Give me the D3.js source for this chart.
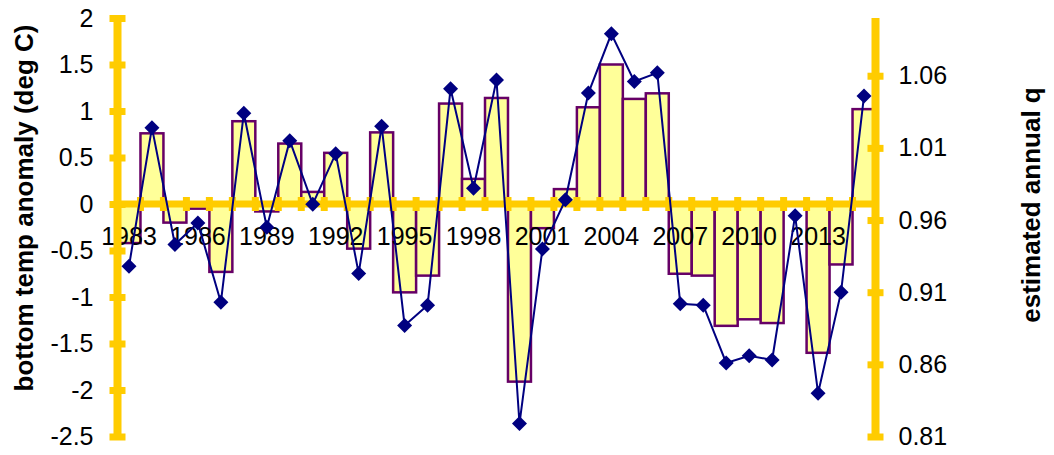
<!DOCTYPE html>
<html>
<head>
<meta charset="utf-8">
<script src="https://cdn.jsdelivr.net/npm/d3@7"></script>
<style>
  html, body { margin: 0; padding: 0; background: #ffffff; }
  svg { display: block; font-family: "Liberation Sans", Arial, sans-serif; }
</style>
</head>
<body>
<svg id="chart" width="1054" height="455"></svg>
<script>
// Annual series, 1983-2015
const years = d3.range(1983, 2016);
const tempAnomaly = [-0.42, 0.76, -0.20, -0.05, -0.73, 0.89, -0.08, 0.65, 0.13, 0.55,
                     -0.48, 0.77, -0.95, -0.77, 1.08, 0.27, 1.14, -1.91, -0.26, 0.16,
                     1.04, 1.50, 1.13, 1.19, -0.75, -0.77, -1.31, -1.24, -1.28, -0.01,
                     -1.60, -0.65, 1.02];
const annualQ = [0.928, 1.024, 0.943, 0.958, 0.903, 1.034, 0.955, 1.015, 0.971, 1.006,
                 0.923, 1.025, 0.887, 0.901, 1.051, 0.982, 1.057, 0.819, 0.940, 0.974,
                 1.048, 1.089, 1.056, 1.062, 0.902, 0.901, 0.861, 0.866, 0.863, 0.963,
                 0.840, 0.910, 1.046];
const leftTicks = [2, 1.5, 1, 0.5, 0, -0.5, -1, -1.5, -2, -2.5];
const rightTicks = [0.81, 0.86, 0.91, 0.96, 1.01, 1.06];
const yearLabels = years.filter((y, i) => i % 3 === 0);

const svg = d3.select("#chart");
const plotLeft = 117.5, plotRight = 875.5, plotTop = 18, plotBottom = 436.5;
const axisColor = "#FFCC00";
const fontSize = 25;
const fontFamily = "Liberation Sans, Arial, sans-serif";

const x = d3.scaleBand().domain(years).range([plotLeft, plotRight]).padding(0);
const yL = d3.scaleLinear().domain([-2.5, 2]).range([plotBottom, plotTop]);
const yR = d3.scaleLinear().domain([0.81, 1.1]).range([plotBottom, plotTop]);

// Bars of bottom temperature anomaly
svg.append("g").selectAll("rect")
  .data(years.map((yr, i) => ({ yr, v: tempAnomaly[i] })))
  .join("rect")
  .attr("x", d => x(d.yr))
  .attr("width", x.bandwidth())
  .attr("y", d => yL(Math.max(0, d.v)))
  .attr("height", d => Math.abs(yL(d.v) - yL(0)))
  .attr("fill", "#FFFF99")
  .attr("stroke", "#660066")
  .attr("stroke-width", 2.5);

// Category axis along zero, with cross ticks at every year boundary
const y0 = yL(0);
const xAxis = svg.append("g").attr("transform", `translate(0,${y0})`);
xAxis.append("line")
  .attr("x1", plotLeft).attr("x2", plotRight)
  .attr("stroke", axisColor).attr("stroke-width", 7);
xAxis.selectAll("rect.xt")
  .data(d3.range(years.length + 1))
  .join("rect").attr("class", "xt")
  .attr("x", i => plotLeft + i * x.step() - 3.5)
  .attr("width", 7)
  .attr("y", -7).attr("height", 14)
  .attr("fill", axisColor);

const xLabels = svg.append("g")
  .attr("transform", `translate(0,${y0})`)
  .call(d3.axisBottom(x).tickValues(yearLabels).tickSize(0).tickPadding(23));
xLabels.select(".domain").remove();
xLabels.selectAll("text").attr("font-size", fontSize).attr("fill", "#000")
  .attr("font-family", fontFamily);

// Left value axis
const axL = svg.append("g").attr("transform", `translate(${plotLeft},0)`)
  .call(d3.axisLeft(yL).tickValues(leftTicks).tickSize(0).tickPadding(24)
        .tickFormat(d => String(d)));
axL.select(".domain").remove();
axL.insert("line", ":first-child")
  .attr("y1", plotTop).attr("y2", plotBottom)
  .attr("stroke", axisColor).attr("stroke-width", 8);
axL.selectAll(".tick").append("rect")
  .attr("x", -8).attr("width", 16).attr("y", -3.5).attr("height", 7)
  .attr("fill", axisColor);
axL.selectAll("text").attr("font-size", fontSize).attr("fill", "#000")
  .attr("font-family", fontFamily);

// Right value axis
const axR = svg.append("g").attr("transform", `translate(${plotRight},0)`)
  .call(d3.axisRight(yR).tickValues(rightTicks).tickSize(0).tickPadding(23)
        .tickFormat(d3.format(".2f")));
axR.select(".domain").remove();
axR.insert("line", ":first-child")
  .attr("y1", plotTop).attr("y2", plotBottom)
  .attr("stroke", axisColor).attr("stroke-width", 8);
axR.selectAll(".tick").append("rect")
  .attr("x", -8).attr("width", 16).attr("y", -3.5).attr("height", 7)
  .attr("fill", axisColor);
axR.selectAll("text").attr("font-size", fontSize).attr("fill", "#000")
  .attr("font-family", fontFamily);

// Axis titles
svg.append("text")
  .attr("transform", "translate(33,208) rotate(-90)")
  .attr("text-anchor", "middle")
  .attr("font-size", 26).attr("font-weight", "bold")
  .text("bottom temp anomaly (deg C)");
svg.append("text")
  .attr("transform", "translate(1040,205) rotate(-90)")
  .attr("text-anchor", "middle")
  .attr("font-size", 26).attr("font-weight", "bold")
  .text("estimated annual q");

// Estimated annual q line with diamond markers
const pts = years.map((yr, i) => ({ yr, q: annualQ[i] }));
const cx = d => x(d.yr) + x.bandwidth() / 2;
svg.append("path")
  .datum(pts)
  .attr("fill", "none")
  .attr("stroke", "#000080")
  .attr("stroke-width", 2)
  .attr("d", d3.line().x(cx).y(d => yR(d.q)));
svg.append("g").selectAll("path")
  .data(pts)
  .join("path")
  .attr("transform", d => `translate(${cx(d)},${yR(d.q)})`)
  .attr("d", "M0,-7.5L7.5,0L0,7.5L-7.5,0Z")
  .attr("fill", "#000080");
</script>
</body>
</html>
